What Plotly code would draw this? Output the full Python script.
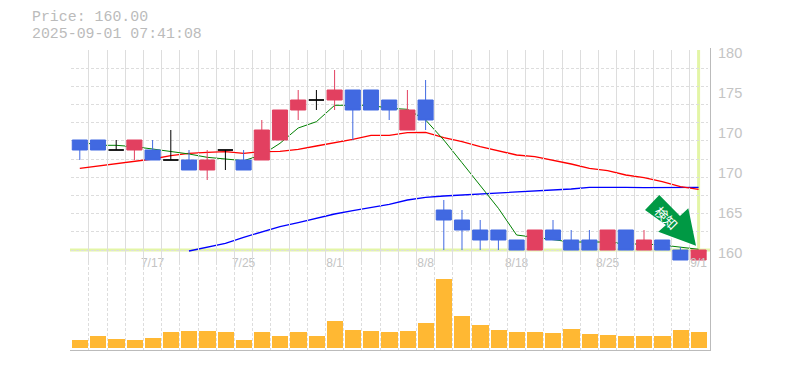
import plotly.graph_objects as go

dates = ["7/11","7/14","7/15","7/16","7/17","7/18","7/22","7/23","7/24","7/25",
         "7/28","7/29","7/30","7/31","8/1","8/4","8/5","8/6","8/7","8/8",
         "8/12","8/13","8/14","8/15","8/18","8/19","8/20","8/21","8/22","8/25",
         "8/26","8/27","8/28","8/29","9/1"]
opens  = [171,171,170,170,170,169,169,168,170,169,169,171,174,175,175,176,176,175,172,175,
          164,163,162,162,161,160,162,161,161,160,162,160,161,160,159]
highs  = [171,171,171,171,171,172,170,170,170,170,173,174,176,176,178,176,176,175,176,177,
          165,164,163,162,161,162,163,162,162,162,162,162,161,160.3,160]
lows   = [169,170,170,169,169,169,168,167,168,168,169,171,173,174,174,171,174,173,172,172,
          160,160,160,160,160,160,161,160,160,160,160,160,160,159,159]
closes = [170,170,170,171,169,169,168,169,170,168,172,174,175,175,176,174,174,174,174,173,
          163,162,161,161,160,162,161,160,160,162,160,161,160,159,160]
ma_short = [170.83,170.47,170.47,170.33,170.1,169.87,169.6,169.27,169.1,168.93,169.5,170.67,
            172.2,172.83,174.47,174.47,174.47,174.17,174.07,173.0,171.0,168.73,166.4,164.17,
            161.5,161.27,161.0,160.8,160.8,160.8,160.6,160.6,160.5,160.27,160.07]
ma_mid = [168.17,168.4,168.6,168.83,169.1,169.43,169.67,169.77,169.83,169.67,169.83,169.87,
          170.07,170.4,170.73,171.07,171.47,171.47,171.73,171.77,171.23,170.83,170.33,169.93,
          169.5,169.33,169.0,168.6,168.17,167.93,167.5,167.23,166.83,166.33,166.07]
ma_long = [None,None,None,None,None,None,159.9,160.27,160.67,161.27,161.77,162.33,162.73,163.17,
           163.6,163.93,164.23,164.57,165.0,165.27,165.4,165.5,165.57,165.67,165.8,165.9,166.0,
           166.1,166.27,166.3,166.27,166.23,166.23,166.27,166.27]
volumes = [24,36,27,24,30,48,54,54,48,24,51,36,48,36,84,57,54,48,54,78,213,99,72,57,48,51,45,60,42,39,36,36,36,57,51]
price_labels = ["180","175","170","170","165","160"]
price_label_values = [180,176,172,168,164,160]
date_labels = ["7/17","7/25","8/1","8/8","8/18","8/25","9/1"]
title_lines = ["Price: 160.00", "2025-09-01 07:41:08"]
arrow_text = "検知"

W, H = 785, 370
L, R, TOP = 70.7, 707.7, 50
PRICE_BOTTOM = 262
VOL_TOP, VOL_BOTTOM = 278, 350
BLUE, RED, GRID = "#4169E1", "#E24060", "#DDDDDD"
HILITE, AXIS, TEXT = "#E3F5A6", "#BBBBBB", "#BBBBBB"
def fy(px): return (H - px) / H
def fx(px): return px / W

price_range = [160 - (PRICE_BOTTOM - 250) / 10, 180]
grid_values = [160 + i * 20 / 11 for i in range(12)]
x_bounds = [i - 0.5 for i in range(len(dates) + 1)]

idx_doji = [i for i in range(len(dates)) if opens[i] == closes[i]]
idx_up = [i for i in range(len(dates)) if closes[i] > opens[i]]
idx_down = [i for i in range(len(dates)) if closes[i] < opens[i]]
def pick(a, ix): return [a[i] for i in ix]

fig = go.Figure()
for vals, col, w in ((ma_long, "#0000FF", 1.3), (ma_mid, "#FF0000", 1.3), (ma_short, "#008000", 1)):
    fig.add_trace(go.Scatter(x=dates, y=vals, mode="lines", yaxis="y", xaxis="x",
                             line=dict(color=col, width=w), hoverinfo="skip", showlegend=False))
for ix, col in ((idx_up, RED), (idx_down, BLUE), (idx_doji, "#000000")):
    fig.add_trace(go.Candlestick(
        x=pick(dates, ix), open=pick(opens, ix), high=pick(highs, ix), low=pick(lows, ix), close=pick(closes, ix),
        yaxis="y2", xaxis="x", whiskerwidth=0,
        increasing=dict(line=dict(color=col, width=1), fillcolor=col),
        decreasing=dict(line=dict(color=col, width=1), fillcolor=col),
        hoverinfo="skip", showlegend=False))
fig.add_trace(go.Bar(x=dates, y=volumes, yaxis="y3", xaxis="x", marker=dict(color="#FFB833", line=dict(width=0)),
                     width=0.88, hoverinfo="skip", showlegend=False))
# carries the price labels and the full-height vertical grid
fig.add_trace(go.Scatter(x=dates, y=closes, yaxis="y4", xaxis="x", mode="lines", opacity=0,
                         line=dict(width=0), hoverinfo="skip", showlegend=False))
fig.add_trace(go.Scatter(x=dates, y=volumes, yaxis="y5", xaxis="x", mode="lines", opacity=0,
                         line=dict(width=0), hoverinfo="skip", showlegend=False))

arrow_pts = [(659.3,195),(680,216),(688.3,208.3),(696,245.7),(658.3,231.7),(666,225),(645,210)]
edge_pts = [(658.3,231.7),(696,245.7),(696,247),(657,233)]
def path(pts):
    return "M" + " L".join(f"{fx(x):.5f},{fy(y):.5f}" for x, y in pts) + " Z"

shapes = [
    dict(type="line", xref="paper", yref="y", x0=fx(70), x1=fx(710), y0=160, y1=160, layer="below",
         line=dict(color=HILITE, width=3)),
    dict(type="line", xref="x", yref="y", x0=34, x1=34, y0=160, y1=180, layer="below",
         line=dict(color=HILITE, width=3)),
    dict(type="line", xref="paper", yref="paper", x0=fx(710.5), x1=fx(710.5), y0=fy(TOP-2), y1=fy(350), layer="above",
         line=dict(color=AXIS, width=1)),
    dict(type="line", xref="paper", yref="paper", x0=fx(70), x1=fx(711), y0=fy(350.5), y1=fy(350.5), layer="above",
         line=dict(color=AXIS, width=1)),
    dict(type="path", xref="paper", yref="paper", path=path(edge_pts), fillcolor="#FFFFFF", line=dict(width=0), layer="above"),
    dict(type="path", xref="paper", yref="paper", path=path(arrow_pts), fillcolor="#009944", line=dict(width=0), layer="above"),
]
annots = [
    dict(text=t, xref="paper", yref="paper", x=fx(30), y=fy(y), xanchor="left", yanchor="middle", showarrow=False,
         font=dict(family="Liberation Mono", size=14.9, color=TEXT))
    for t, y in zip(title_lines, (17, 34))
]
annots.append(dict(text=arrow_text, xref="paper", yref="paper", x=fx(666.5), y=fy(217), xanchor="center", yanchor="middle",
                   showarrow=False, textangle=45,
                   font=dict(family="Noto Sans CJK JP", size=13, color="#FFFFFF")))

fig.update_layout(
    width=W, height=H, margin=dict(l=0, r=0, t=0, b=0, pad=0, autoexpand=False), paper_bgcolor="#FFFFFF", plot_bgcolor="rgba(0,0,0,0)",
    shapes=shapes, annotations=annots, bargap=0, showlegend=False, boxmode="overlay", boxgap=0.17, boxgroupgap=0,
    xaxis=dict(type="category", categoryorder="array", categoryarray=dates, domain=[fx(L), fx(R)], range=[-0.5, 34.5],
               anchor="free", position=fy(253.5), rangeslider=dict(visible=False),
               tickmode="array", tickvals=date_labels, ticktext=date_labels, ticks="", showline=False, zeroline=False,
               tickfont=dict(family="Liberation Sans", size=12, color="#C4C4C4"),
               showgrid=False,
               minor=dict(tickmode="array", tickvals=x_bounds, ticks="", showgrid=True,
                          gridcolor=GRID, griddash="3px,2px", gridwidth=1)),
    yaxis=dict(domain=[fy(PRICE_BOTTOM), fy(TOP)], range=price_range, tickmode="array", tickvals=grid_values,
               showticklabels=False, ticks="", showgrid=True, gridcolor=GRID, griddash="3px,2px", gridwidth=1, zeroline=False),
    yaxis2=dict(domain=[fy(PRICE_BOTTOM), fy(TOP)], range=price_range, overlaying="y", showticklabels=False, ticks="",
                showgrid=False, zeroline=False),
    yaxis3=dict(domain=[fy(VOL_BOTTOM), fy(VOL_TOP)], range=[-6, 216], showticklabels=False, ticks="", showgrid=False, zeroline=False),
    yaxis4=dict(domain=[fy(PRICE_BOTTOM + 3), fy(TOP + 3)], range=price_range, anchor="free", position=fx(717), side="right",
                tickmode="array", tickvals=price_label_values, ticktext=price_labels, ticks="", showgrid=False,
                zeroline=False, tickfont=dict(family="Liberation Sans", size=14.5, color="#C4C4C4")),
    yaxis5=dict(domain=[fy(VOL_TOP), fy(PRICE_BOTTOM)], range=[0, 1], showticklabels=False, ticks="", showgrid=False, zeroline=False),
)
fig.write_html("out.html", config=dict(displayModeBar=False), post_script="document.body.style.margin='0';")
